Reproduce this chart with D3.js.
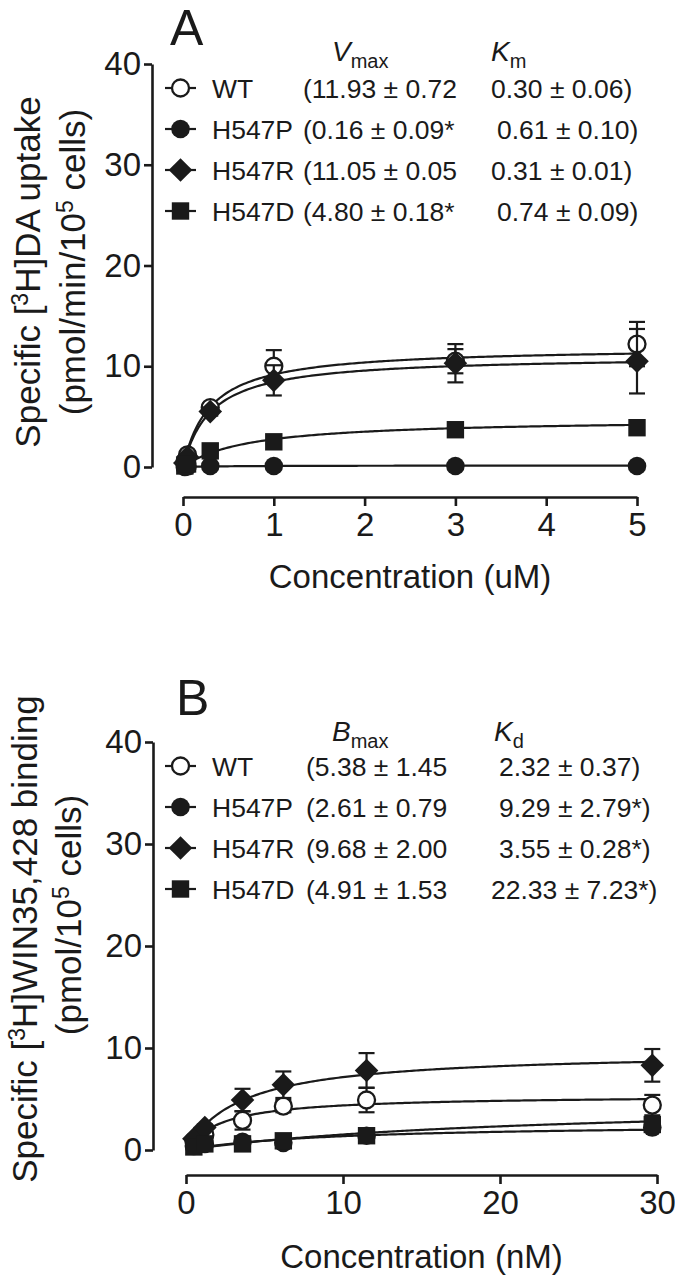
<!DOCTYPE html>
<html><head><meta charset="utf-8">
<script src="https://cdn.jsdelivr.net/npm/d3@7"></script>
<style>
body{margin:0;background:#fff}
svg{display:block}
text{font-family:"Liberation Sans",Arial,Helvetica,sans-serif;fill:#1a1a1a}
</style>
</head><body>
<svg id="c" width="675" height="1278"></svg>
<script>
// ---------- shared ----------
const seriesNames = ["WT", "H547P", "H547R", "H547D"];
const seriesShapes = ["openCircle", "circle", "diamond", "square"];
const yTicks = [0, 10, 20, 30, 40];

// ---------- Panel A: [3H]DA uptake ----------
const concA = [0.02, 0.05, 0.3, 1, 3, 5];
const xTicksA = [0, 1, 2, 3, 4, 5];
const uptakeWT    = [0.5, 1.2, 5.9, 10.0, 10.5, 12.2];
const uptakeWTerr = [0.2, 0.3, 0.4, 1.6, 1.2, 2.2];
const uptakeP     = [0.0, 0.05, 0.1, 0.1, 0.1, 0.1];
const uptakePerr  = [0.05, 0.05, 0.05, 0.05, 0.05, 0.05];
const uptakeR     = [0.4, 1.0, 5.5, 8.6, 10.3, 10.5];
const uptakeRerr  = [0.1, 0.2, 0.4, 1.5, 1.9, 3.2];
const uptakeD     = [0.1, 0.3, 1.6, 2.5, 3.7, 3.9];
const uptakeDerr  = [0.05, 0.1, 0.2, 0.2, 0.2, 0.2];
const vmaxA = [11.93, 0.16, 11.05, 4.80];
const kmA   = [0.30, 0.61, 0.31, 0.74];
const vmaxLabels = ["(11.93 \u00b1 0.72", "(0.16 \u00b1 0.09*", "(11.05 \u00b1 0.05", "(4.80 \u00b1 0.18*"];
const kmLabels   = ["0.30 \u00b1 0.06)", "0.61 \u00b1 0.10)", "0.31 \u00b1 0.01)", "0.74 \u00b1 0.09)"];

// ---------- Panel B: [3H]WIN35,428 binding ----------
const concB = [0.5, 1.2, 3.6, 6.2, 11.5, 29.7];
const xTicksB = [0, 10, 20, 30];
const bindWT    = [0.9, 1.5, 2.9, 4.3, 4.9, 4.4];
const bindWTerr = [0.2, 0.3, 0.9, 0.6, 1.2, 1.0];
const bindP     = [0.4, 0.6, 0.8, 0.7, 1.4, 2.2];
const bindPerr  = [0.1, 0.1, 0.2, 0.2, 0.2, 0.3];
const bindR     = [1.1, 2.2, 4.9, 6.4, 7.8, 8.3];
const bindRerr  = [0.2, 0.3, 1.1, 1.3, 1.7, 1.6];
const bindD     = [0.3, 0.6, 0.6, 0.9, 1.4, 2.5];
const bindDerr  = [0.1, 0.1, 0.1, 0.1, 0.2, 0.3];
const bmaxB = [5.38, 2.61, 9.68, 4.91];
const kdB   = [2.32, 9.29, 3.55, 22.33];
const bmaxLabels = ["(5.38 \u00b1 1.45", "(2.61 \u00b1 0.79", "(9.68 \u00b1 2.00", "(4.91 \u00b1 1.53"];
const kdLabels   = ["2.32 \u00b1 0.37)", "9.29 \u00b1 2.79*)", "3.55 \u00b1 0.28*)", "22.33 \u00b1 7.23*)"];

const svg = d3.select("#c");
const INK = "#1a1a1a";
const LEG_FS = 26.5;

function drawMarker(g, shape, cx, cy) {
  if (shape === "openCircle") {
    g.append("circle").attr("cx", cx).attr("cy", cy).attr("r", 8.5)
      .attr("fill", "#fff").attr("stroke", INK).attr("stroke-width", 2.3);
  } else if (shape === "circle") {
    g.append("circle").attr("cx", cx).attr("cy", cy).attr("r", 9.3).attr("fill", INK);
  } else if (shape === "diamond") {
    const s = 11.8;
    g.append("path").attr("d", `M${cx},${cy - s}L${cx + s},${cy}L${cx},${cy + s}L${cx - s},${cy}Z`).attr("fill", INK);
  } else {
    g.append("rect").attr("x", cx - 8.7).attr("y", cy - 8.7).attr("width", 17.4).attr("height", 17.4).attr("fill", INK);
  }
}

function panel(cfg) {
  const g = svg.append("g");
  const x = d3.scaleLinear().domain(cfg.xDomain).range(cfg.xRange);
  const y = d3.scaleLinear().domain([0, 40]).range(cfg.yRange);

  // axes
  const ya = g.append("g").attr("transform", `translate(${cfg.yAxisX},0)`)
    .call(d3.axisLeft(y).tickValues(yTicks).tickFormat(d3.format("d")).tickSize(8).tickSizeOuter(0).tickPadding(3));
  const xa = g.append("g").attr("transform", `translate(0,${cfg.xAxisY})`)
    .call(d3.axisBottom(x).tickValues(cfg.xTicks).tickFormat(d3.format("d")).tickSize(9).tickSizeOuter(0).tickPadding(7));
  [ya, xa].forEach(a => {
    a.selectAll("path,line").attr("stroke", INK).attr("stroke-width", 2.6);
    a.selectAll("text").attr("font-size", 33).attr("fill", INK)
      .style("font-family", '"Liberation Sans",Arial,sans-serif');
  });

  // fit curves (from the fitted parameters shown in the legend)
  const line = d3.line().x(d => x(d[0])).y(d => y(d[1]));
  const x0 = cfg.conc[0], x1 = cfg.conc[cfg.conc.length - 1];
  const samples = d3.range(0, 201).map(i => x0 + (x1 - x0) * i / 200);
  cfg.fitMax.forEach((vm, k) => {
    const km = cfg.fitK[k];
    g.append("path").datum(samples.map(c => [c, vm * c / (km + c)]))
      .attr("d", line).attr("fill", "none").attr("stroke", INK).attr("stroke-width", 2.2);
  });

  // error bars and markers, series in order
  cfg.values.forEach((vals, k) => {
    const errs = cfg.errors[k];
    const sg = g.append("g");
    vals.forEach((v, i) => {
      const cx = x(cfg.conc[i]);
      const e = errs[i];
      const yt = y(v + e), yb = y(v - e);
      sg.append("line").attr("x1", cx).attr("x2", cx).attr("y1", yt).attr("y2", yb)
        .attr("stroke", INK).attr("stroke-width", 2.2);
      [yt, yb].forEach(yy => sg.append("line").attr("x1", cx - 8).attr("x2", cx + 8)
        .attr("y1", yy).attr("y2", yy).attr("stroke", INK).attr("stroke-width", 2.2));
    });
    vals.forEach((v, i) => drawMarker(sg, seriesShapes[k], x(cfg.conc[i]), y(v)));
  });

  // x-axis title
  g.append("text").attr("x", (cfg.xRange[0] + cfg.xRange[1]) / 2).attr("y", cfg.xTitleY)
    .attr("text-anchor", "middle").attr("font-size", 33).text(cfg.xTitle);

  // y-axis title (two lines, rotated)
  cfg.yTitle.forEach((parts, li) => {
    const t = g.append("text").attr("text-anchor", "middle").attr("font-size", 35)
      .attr("transform", `translate(${cfg.yTitleX[li]},${cfg.yTitleY[li]}) rotate(-90)`);
    parts.forEach(p => {
      const ts = t.append("tspan").text(p.t);
      if (p.sup) ts.attr("font-size", 23).attr("dy", -12);
      if (p.after) ts.attr("dy", 12);
    });
  });

  // panel letter
  g.append("text").attr("x", cfg.letterX).attr("y", cfg.letterY).attr("font-size", 50).text(cfg.letter);

  // legend headers
  cfg.headers.forEach(h => {
    const t = g.append("text").attr("x", h.x).attr("y", cfg.headerY).attr("font-size", 28);
    t.append("tspan").attr("font-style", "italic").text(h.main);
    t.append("tspan").attr("font-size", 20).attr("dy", 7).text(h.sub);
  });

  // legend rows
  seriesNames.forEach((name, k) => {
    const cy = cfg.legendY[k];
    g.append("line").attr("x1", 165).attr("x2", 196).attr("y1", cy).attr("y2", cy)
      .attr("stroke", INK).attr("stroke-width", 2.2);
    drawMarker(g, seriesShapes[k], 180.5, cy);
    g.append("text").attr("x", 212).attr("y", cy + 10).attr("font-size", LEG_FS).text(name);
    g.append("text").attr("x", cfg.col1X).attr("y", cy + 10).attr("font-size", LEG_FS).text(cfg.col1[k]);
    g.append("text").attr("x", cfg.col2X[k]).attr("y", cy + 10).attr("font-size", LEG_FS).text(cfg.col2[k]);
  });
}

panel({
  xDomain: [0, 5], xRange: [183, 637], yRange: [467, 64],
  yAxisX: 152, xAxisY: 497, xTicks: xTicksA,
  conc: concA,
  values: [uptakeWT, uptakeP, uptakeR, uptakeD],
  errors: [uptakeWTerr, uptakePerr, uptakeRerr, uptakeDerr],
  fitMax: vmaxA, fitK: kmA,
  xTitle: "Concentration (uM)", xTitleY: 588,
  yTitle: [
    [{t: "Specific ["}, {t: "3", sup: true}, {t: "H]DA uptake", after: true}],
    [{t: "(pmol/min/10"}, {t: "5", sup: true}, {t: " cells)", after: true}]
  ],
  yTitleX: [40, 85], yTitleY: [272, 262],
  letter: "A", letterX: 170, letterY: 45,
  headerY: 61,
  headers: [{main: "V", sub: "max", x: 332}, {main: "K", sub: "m", x: 491}],
  legendY: [88, 129, 170, 211],
  col1X: 303, col1: vmaxLabels,
  col2X: [491, 497, 491, 497], col2: kmLabels
});

panel({
  xDomain: [0, 30], xRange: [186, 657], yRange: [1150, 742],
  yAxisX: 153, xAxisY: 1175, xTicks: xTicksB,
  conc: concB,
  values: [bindWT, bindP, bindR, bindD],
  errors: [bindWTerr, bindPerr, bindRerr, bindDerr],
  fitMax: bmaxB, fitK: kdB,
  xTitle: "Concentration (nM)", xTitleY: 1268,
  yTitle: [
    [{t: "Specific ["}, {t: "3", sup: true}, {t: "H]WIN35,428 binding", after: true}],
    [{t: "(pmol/10"}, {t: "5", sup: true}, {t: " cells)", after: true}]
  ],
  yTitleX: [37, 81], yTitleY: [939, 915],
  letter: "B", letterX: 176, letterY: 715,
  headerY: 741,
  headers: [{main: "B", sub: "max", x: 332}, {main: "K", sub: "d", x: 494}],
  legendY: [766, 807, 848, 889],
  col1X: 306, col1: bmaxLabels,
  col2X: [499, 499, 499, 491], col2: kdLabels
});
</script>
</body></html>
